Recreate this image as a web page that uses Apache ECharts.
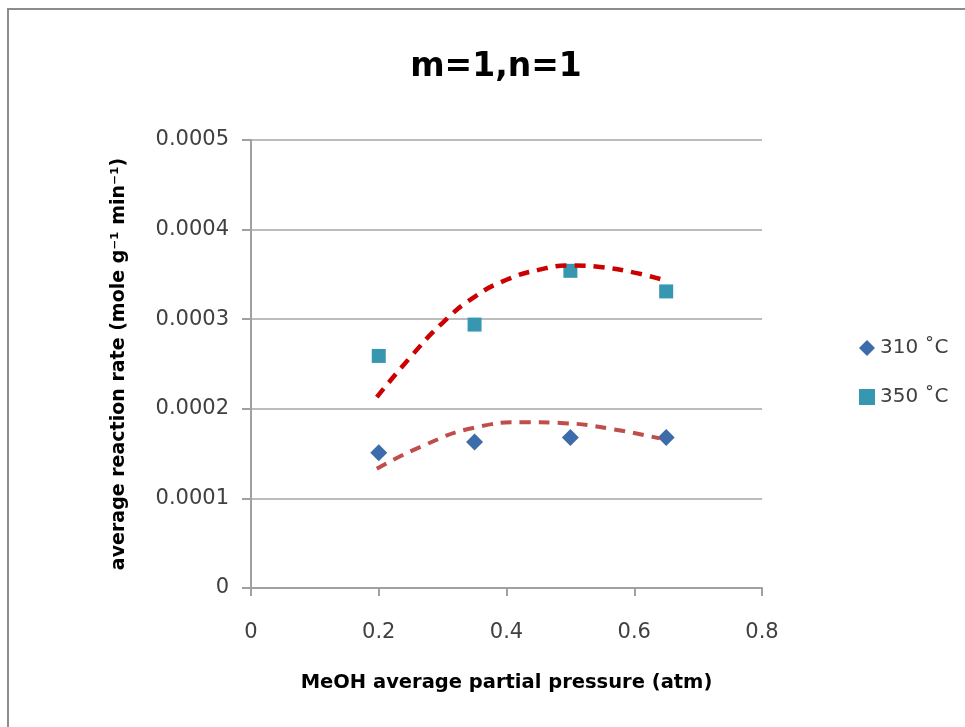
<!DOCTYPE html>
<html>
<head>
    <meta charset="utf-8">
    <script type="text/javascript" src="https://cdn.jsdelivr.net/npm/echarts@6/dist/echarts.min.js"></script>
    <style>
        html, body { margin: 0; padding: 0; background: #fff; }
    </style>
</head>
<body>
    <div id="main" style="width: 965px;height:727px;"></div>
    <script type="text/javascript">
    // measured points
    let names = ['310 ˚C', '350 ˚C']
    let pressure = [0.2, 0.35, 0.5, 0.65]
    let rate310 = [0.000151, 0.000163, 0.000168, 0.000168]
    let rate350 = [0.000259, 0.000294, 0.000354, 0.000331]

    // model curves (dashed)
    let fit310X = [0.197, 0.27, 0.35, 0.43, 0.49, 0.56, 0.64]
    let fit310Y = [0.000133, 0.000159, 0.000179, 0.000185, 0.000184, 0.000178, 0.000167]
    let fit350X = [0.197, 0.25, 0.30, 0.35, 0.40, 0.45, 0.50, 0.55, 0.60, 0.645]
    let fit350Y = [0.000213, 0.000258, 0.000296, 0.000325, 0.000344, 0.000355, 0.000360, 0.000358, 0.000352, 0.000344]

    let font = 'DejaVu Sans'
    let txt = '#404040'
    let gray = '#a0a0a0'

    function zip(xs, ys) {
        return xs.map((v, k) => [v, ys[k]])
    }

    var myChart = echarts.init(document.getElementById('main'))
    let option = {
        backgroundColor: '#fff',
        animation: false,
        title: {
            text: 'm=1,n=1',
            left: 491,
            textAlign: 'center',
            top: 46,
            textStyle: { fontFamily: font, fontWeight: 'bold', fontSize: 33, color: '#000' }
        },
        graphic: [{
            type: 'rect',
            shape: { x: 8, y: 9, width: 1000, height: 800 },
            style: { fill: 'none', stroke: '#8c8c8c', lineWidth: 2 },
            silent: true
        }],
        legend: {
            orient: 'vertical',
            left: 854,
            top: 333,
            itemWidth: 16,
            itemHeight: 16,
            itemGap: 29,
            textStyle: { fontFamily: font, fontSize: 20, color: txt },
            data: [
                { name: names[0], icon: 'diamond' },
                { name: names[1], icon: 'rect' }
            ]
        },
        grid: { left: 251, right: 203, top: 140, bottom: 139 },
        xAxis: {
            type: 'value',
            min: 0, max: 0.8, interval: 0.2,
            name: 'MeOH average partial pressure (atm)',
            nameLocation: 'middle',
            nameGap: 85,
            nameTextStyle: { fontFamily: font, fontWeight: 'bold', fontSize: 19.5, color: '#000' },
            axisLine: { lineStyle: { color: gray, width: 2 } },
            axisTick: { show: true, length: 8, lineStyle: { color: gray, width: 2 } },
            axisLabel: {
                margin: 34,
                fontFamily: font, fontSize: 21, color: txt,
                formatter: v => v === 0 ? '0' : v.toFixed(1)
            },
            splitLine: { show: false }
        },
        yAxis: {
            type: 'value',
            min: 0, max: 0.0005, interval: 0.0001,
            name: 'average reaction rate (mole g⁻¹ min⁻¹)',
            nameLocation: 'middle',
            nameRotate: 90,
            nameGap: 122,
            nameTextStyle: { fontFamily: font, fontWeight: 'bold', fontSize: 19, color: '#000' },
            axisLine: { show: true, lineStyle: { color: gray, width: 2 } },
            axisTick: { show: true, length: 9, lineStyle: { color: gray, width: 2 } },
            axisLabel: {
                margin: 22,
                fontFamily: font, fontSize: 21, color: txt,
                formatter: v => v === 0 ? '0' : v.toFixed(4)
            },
            splitLine: { show: true, lineStyle: { color: '#a6a6a6', width: 1.5 } }
        },
        series: [{
            name: names[0],
            type: 'scatter',
            symbol: 'diamond',
            symbolSize: 17,
            itemStyle: { color: '#3d6cab', opacity: 1 },
            data: zip(pressure, rate310),
            z: 3
        }, {
            name: names[1],
            type: 'scatter',
            symbol: 'rect',
            symbolSize: 14,
            itemStyle: { color: '#3797b0', opacity: 1 },
            data: zip(pressure, rate350),
            z: 3
        }, {
            name: 'fit310',
            type: 'line',
            smooth: 0.5,
            showSymbol: false,
            lineStyle: { color: '#bf4d4a', width: 4, type: [11, 8], cap: 'butt' },
            data: zip(fit310X, fit310Y),
            z: 4
        }, {
            name: 'fit350',
            type: 'line',
            smooth: 0.5,
            showSymbol: false,
            lineStyle: { color: '#cc0000', width: 4.5, type: [11, 8], cap: 'butt' },
            data: zip(fit350X, fit350Y),
            z: 4
        }]
    }
    myChart.setOption(option)
    </script>
</body>
</html>
